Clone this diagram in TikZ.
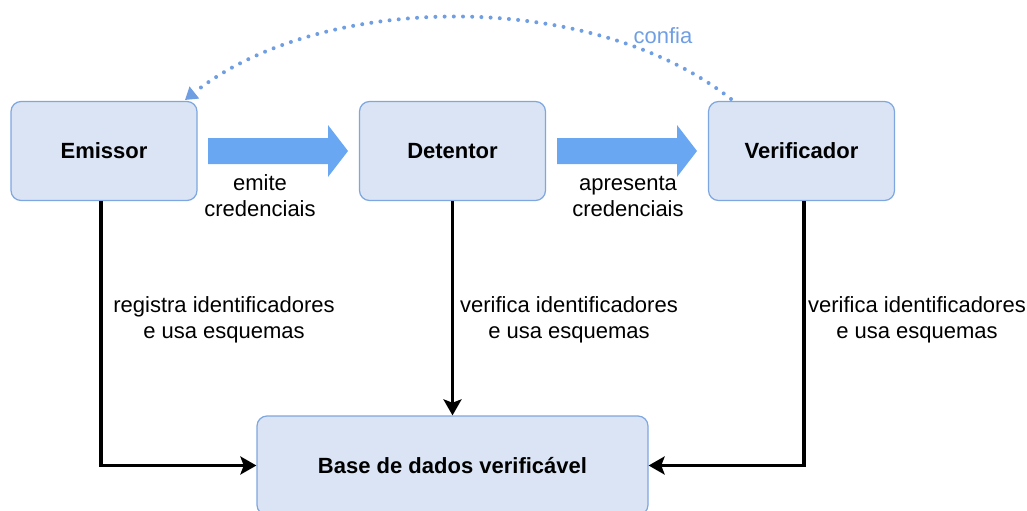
\documentclass[tikz,border=0pt]{standalone}
\usepackage{fontspec}
\setmainfont{Liberation Sans}
\usetikzlibrary{arrows.meta,calc}
\definecolor{boxfill}{HTML}{DAE4F4}
\definecolor{boxline}{HTML}{7EA6E0}
\definecolor{bigarrow}{HTML}{6AA7F2}
\definecolor{trustblue}{HTML}{6F9FE2}
\tikzset{
  party/.style={draw=boxline, fill=boxfill, line width=0.9pt, rounded corners=7.5pt,
    minimum width=139.5pt, minimum height=74.25pt, inner sep=0pt,
    font=\fontsize{16.5}{19.5}\selectfont\bfseries},
  lbl/.style={align=center, inner sep=0pt, font=\fontsize{16.5}{19.5}\selectfont},
  flow/.style={line width=2.4pt, -{Stealth[length=12pt,width=13.5pt,inset=2.5pt]}},
  blockarrow/.style={fill=bigarrow, draw=none},
  trust/.style={draw=trustblue, line width=3pt, line cap=round, dash pattern=on 0pt off 6.9pt,
    -{Triangle[length=9pt,width=11pt]}}
}
\begin{document}
\begin{tikzpicture}[x=0.75pt,y=-0.75pt]
\useasboundingbox (0,0) rectangle (1027,510);
\clip (0,0) rectangle (1027,510);
\node[party] (E) at (104,151) {Emissor};
\node[party] (D) at (452.5,151) {Detentor};
\node[party] (V) at (801.5,151) {Verificador};
\node[party, minimum width=293.25pt] (B) at (452.5,465.5) {Base de dados verificável};
% block arrows
\fill[blockarrow] (208,138) -- (328,138) -- (328,125) -- (348,151) -- (328,177) -- (328,164) -- (208,164) -- cycle;
\fill[blockarrow] (557,138) -- (677,138) -- (677,125) -- (697,151) -- (677,177) -- (677,164) -- (557,164) -- cycle;
\node[lbl] (l1) at (260,196) {emite\\credenciais};
\node[lbl] (l2) at (628,196) {apresenta\\credenciais};
% flows to database
\coordinate (es) at ($(E.south)+(-3,0)$);
\coordinate (vs) at ($(V.south)+(2.5,0)$);
\draw[flow] (es) |- (B.west);
\draw[flow] (D.south) -- (B.north);
\draw[flow] (vs) |- (B.east);
\node[lbl] (l3) at (224,320) {registra identificadores\\e usa esquemas};
\node[lbl] (l4) at (569,320) {verifica identificadores\\e usa esquemas};
\node[lbl] (l5) at (917,320) {verifica identificadores\\e usa esquemas};
% trust arc
\coordinate (vt) at (731,99);
\coordinate (et) at (185,100);
\draw[trust] (vt) .. controls (590,-12) and (320,-8) .. (et);
\node[lbl, text=trustblue] (c) at (663,36) {confia};
\end{tikzpicture}
\end{document}
